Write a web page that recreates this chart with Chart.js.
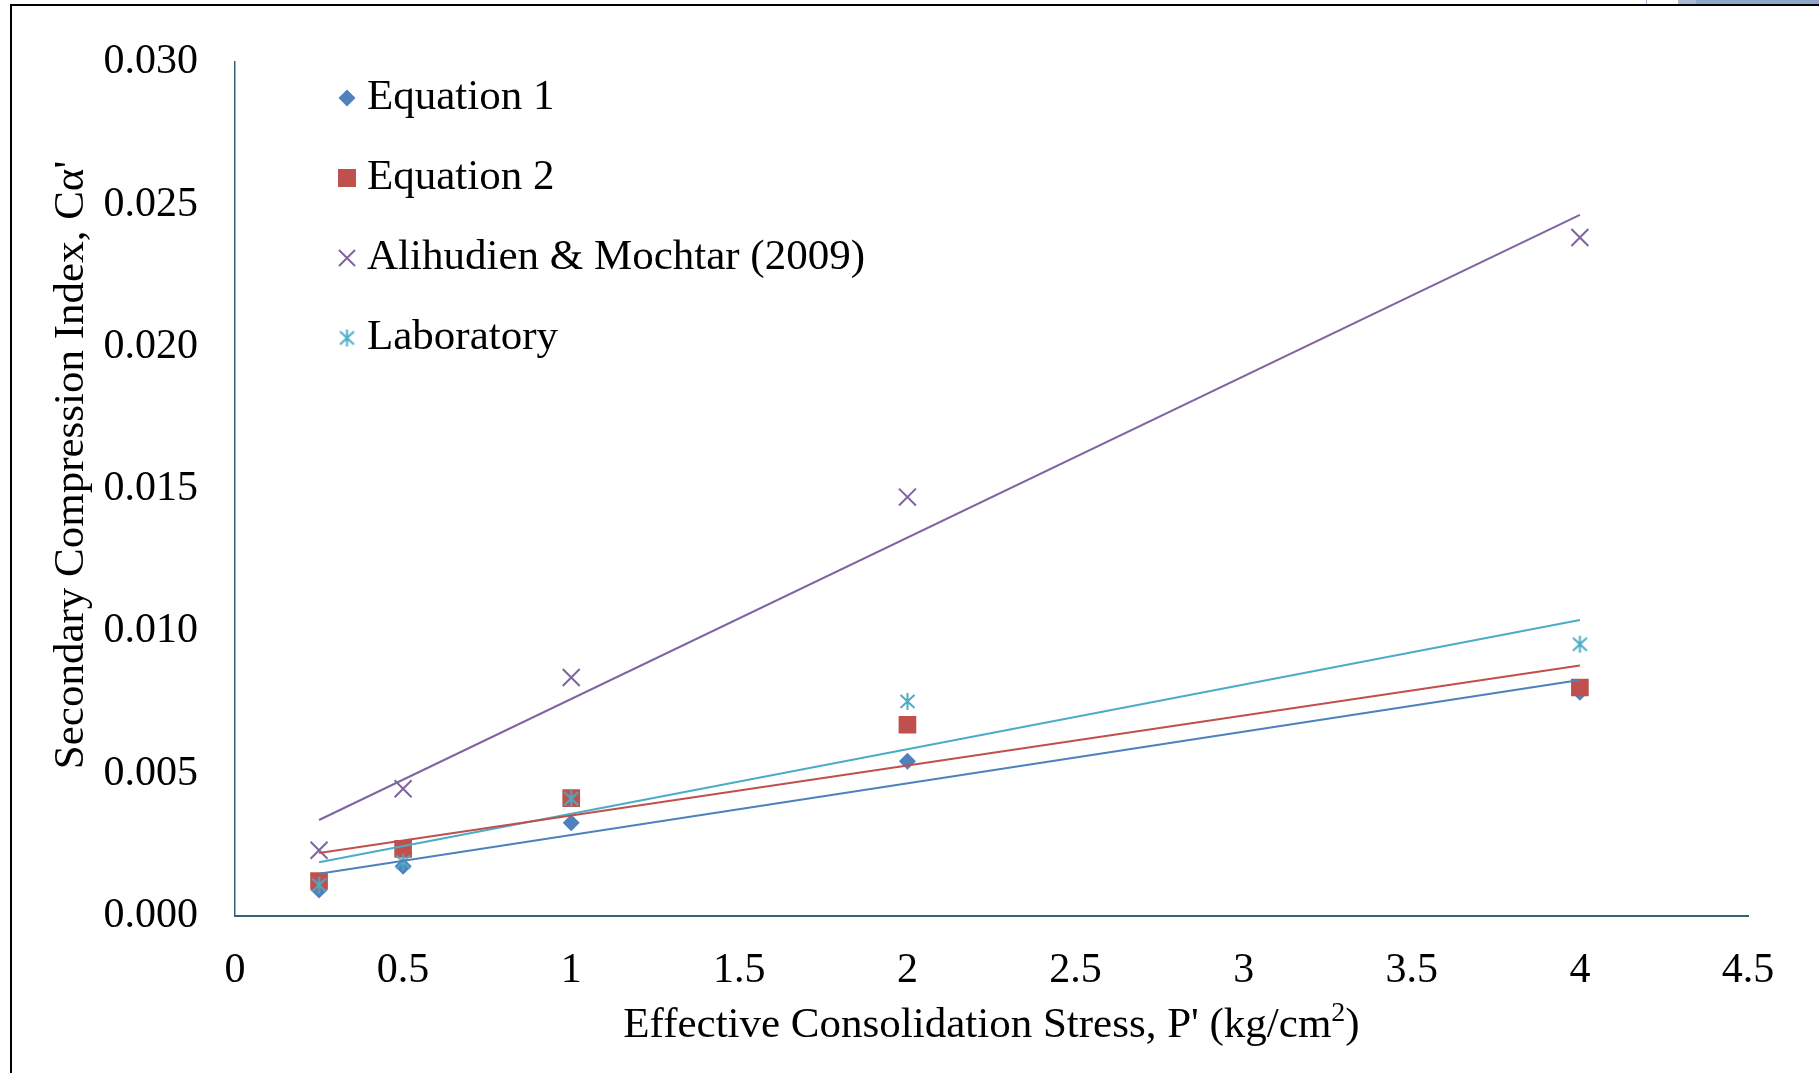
<!DOCTYPE html>
<html>
<head>
<meta charset="utf-8">
<title>Secondary Compression Index vs Effective Consolidation Stress</title>
<style>
  html, body { margin: 0; padding: 0; background: #ffffff; }
  #wrap { position: relative; width: 1819px; height: 1073px; }
  canvas { display: block; }
</style>
<script src="https://cdn.jsdelivr.net/npm/chart.js"></script>
</head>
<body>
<div id="wrap"><canvas id="chart" width="1819" height="1073"></canvas></div>
<script>
// Effective consolidation stress, kg/cm2
const stress = [0.25, 0.5, 1, 2, 4];

// Secondary compression index for each method
const equation1  = [0.00091, 0.00175, 0.00328, 0.00544, 0.00786];
const equation2  = [0.00123, 0.00236, 0.00414, 0.00672, 0.00803];
const alihudien  = [0.00231, 0.00447, 0.00838, 0.01472, 0.02384];
const laboratory = [0.00109, 0.00190, 0.00412, 0.00754, 0.00955];

const seriesNames = ['Equation 1', 'Equation 2', 'Alihudien & Mochtar (2009)', 'Laboratory'];
const seriesColors = ['#4F81BD', '#C0504D', '#8064A2', '#4BACC6'];

const xTickValues = [0, 0.5, 1, 1.5, 2, 2.5, 3, 3.5, 4, 4.5];
const yTickValues = [0, 0.005, 0.010, 0.015, 0.020, 0.025, 0.030];

const xTitle = 'Effective Consolidation Stress, P\' (kg/cm';
const xTitleSup = '2';
const yTitle = 'Secondary Compression Index, C\u03B1\'';

const FONT = '"Liberation Serif", "Times New Roman", serif';
const AXIS_COLOR = '#31646F';

// Asterisk marker: an X with a vertical bar through it
function makeStar(color) {
  const c = document.createElement('canvas');
  c.width = 19; c.height = 19;
  const g = c.getContext('2d');
  g.strokeStyle = color;
  g.lineWidth = 2;
  g.lineCap = 'butt';
  g.beginPath();
  g.moveTo(9.5, 1); g.lineTo(9.5, 18);
  g.moveTo(2.5, 3); g.lineTo(16.5, 16);
  g.moveTo(16.5, 3); g.lineTo(2.5, 16);
  g.stroke();
  return c;
}
const starMarker = makeStar(seriesColors[3]);

// Least-squares straight line over the measured points
function linearFit(xs, ys) {
  const n = xs.length;
  const mx = xs.reduce((a, b) => a + b, 0) / n;
  const my = ys.reduce((a, b) => a + b, 0) / n;
  let sxy = 0, sxx = 0;
  for (let i = 0; i < n; i++) {
    sxy += (xs[i] - mx) * (ys[i] - my);
    sxx += (xs[i] - mx) * (xs[i] - mx);
  }
  const slope = sxy / sxx;
  const icpt = my - slope * mx;
  const x0 = Math.min(...xs), x1 = Math.max(...xs);
  return [{ x: x0, y: icpt + slope * x0 }, { x: x1, y: icpt + slope * x1 }];
}

const toPoints = ys => stress.map((x, i) => ({ x, y: ys[i] }));

const allSeries = [equation1, equation2, alihudien, laboratory];
const markerStyles = [
  { pointStyle: 'rectRot', pointRadius: 8.5, pointBorderWidth: 0 },
  { pointStyle: 'rect', pointRadius: 12.5, pointBorderWidth: 0 },
  { pointStyle: 'crossRot', pointRadius: 12, pointBorderWidth: 2 },
  { pointStyle: starMarker, pointRadius: 9, pointBorderWidth: 0 }
];

const datasets = [];
allSeries.forEach((ys, i) => {
  datasets.push(Object.assign({
    type: 'scatter',
    label: seriesNames[i],
    data: toPoints(ys),
    backgroundColor: seriesColors[i],
    borderColor: seriesColors[i],
    showLine: false,
    order: 4 - i
  }, markerStyles[i]));
});
allSeries.forEach((ys, i) => {
  datasets.push({
    type: 'line',
    label: seriesNames[i] + ' trend',
    data: linearFit(stress, ys),
    borderColor: seriesColors[i],
    borderWidth: 2,
    pointRadius: 0,
    fill: false,
    tension: 0,
    order: 0
  });
});

// Page frame lines
const framePlugin = {
  id: 'frame',
  beforeDraw(chart) {
    const ctx = chart.ctx;
    ctx.save();
    ctx.fillStyle = '#ffffff';
    ctx.fillRect(0, 0, chart.width, chart.height);
    ctx.fillStyle = '#8EA6C9';
    ctx.fillRect(1678, 0, 141, 4);
    ctx.fillStyle = '#A9BAD3';
    ctx.fillRect(1678, 0, 18, 4);
    ctx.fillStyle = '#9FB5D6';
    ctx.fillRect(1646, 0, 1, 4);
    ctx.fillStyle = '#000000';
    ctx.fillRect(10, 4, chart.width - 10, 2);
    ctx.fillRect(10, 4, 2, chart.height - 4);
    ctx.restore();
  }
};

// Axis titles and in-plot legend
const annotatePlugin = {
  id: 'annotate',
  afterDraw(chart) {
    const ctx = chart.ctx;
    const area = chart.chartArea;
    const mainFont = '43px ' + FONT;
    ctx.save();
    ctx.fillStyle = '#000000';
    ctx.font = mainFont;
    ctx.textBaseline = 'middle';

    // y title
    ctx.save();
    ctx.translate(72, 465);
    ctx.rotate(-Math.PI / 2);
    ctx.textAlign = 'center';
    ctx.fillText(yTitle, 0, 0);
    ctx.restore();

    // x title with superscript
    const supFont = '28px ' + FONT;
    const mainW = ctx.measureText(xTitle).width;
    const closeW = ctx.measureText(')').width;
    ctx.font = supFont;
    const supW = ctx.measureText(xTitleSup).width;
    const total = mainW + supW + closeW;
    let tx = (area.left + area.right) / 2 - total / 2;
    const ty = 1026;
    ctx.textAlign = 'left';
    ctx.font = mainFont;
    ctx.fillText(xTitle, tx, ty);
    tx += mainW;
    ctx.font = supFont;
    ctx.fillText(xTitleSup, tx, ty - 12);
    tx += supW;
    ctx.font = mainFont;
    ctx.fillText(')', tx, ty);

    // legend
    const rowsY = [98, 178, 258, 338];
    const markX = 347;
    const textX = 367;
    rowsY.forEach((y, i) => {
      const col = seriesColors[i];
      ctx.fillStyle = col;
      ctx.strokeStyle = col;
      if (i === 0) {
        ctx.beginPath();
        ctx.moveTo(markX - 8.5, y); ctx.lineTo(markX, y - 8.5);
        ctx.lineTo(markX + 8.5, y); ctx.lineTo(markX, y + 8.5);
        ctx.closePath(); ctx.fill();
      } else if (i === 1) {
        ctx.fillRect(markX - 9, y - 9, 18, 18);
      } else if (i === 2) {
        ctx.lineWidth = 2;
        ctx.beginPath();
        ctx.moveTo(markX - 8, y - 8); ctx.lineTo(markX + 8, y + 8);
        ctx.moveTo(markX + 8, y - 8); ctx.lineTo(markX - 8, y + 8);
        ctx.stroke();
      } else {
        ctx.drawImage(starMarker, markX - starMarker.width / 2, y - starMarker.height / 2);
      }
      ctx.fillStyle = '#000000';
      ctx.textAlign = 'left';
      ctx.fillText(seriesNames[i], textX, y);
    });
    ctx.restore();
  }
};

new Chart(document.getElementById('chart'), {
  data: { datasets },
  options: {
    responsive: false,
    animation: false,
    events: [],
    layout: { padding: { left: 0, top: 60, right: 71, bottom: 0 } },
    plugins: { legend: { display: false }, tooltip: { enabled: false } },
    scales: {
      x: {
        type: 'linear',
        min: xTickValues[0],
        max: xTickValues[xTickValues.length - 1],
        afterBuildTicks(s) { s.ticks = xTickValues.map(v => ({ value: v })); },
        afterFit(s) { s.height = 157; },
        ticks: {
          color: '#000000',
          font: { family: FONT, size: 42 },
          padding: 30,
          maxRotation: 0,
          autoSkip: false,
          callback: v => String(v)
        },
        grid: { display: false, drawTicks: false },
        border: { color: AXIS_COLOR, width: 2 }
      },
      y: {
        type: 'linear',
        min: yTickValues[0],
        max: yTickValues[yTickValues.length - 1],
        afterBuildTicks(s) { s.ticks = yTickValues.map(v => ({ value: v })); },
        afterFit(s) { s.width = 235; },
        ticks: {
          color: '#000000',
          font: { family: FONT, size: 42 },
          padding: 37,
          autoSkip: false,
          callback: v => Number(v).toFixed(3)
        },
        grid: { display: false, drawTicks: false },
        border: { color: AXIS_COLOR, width: 1.5 }
      }
    }
  },
  plugins: [framePlugin, annotatePlugin]
});
</script>
</body>
</html>
